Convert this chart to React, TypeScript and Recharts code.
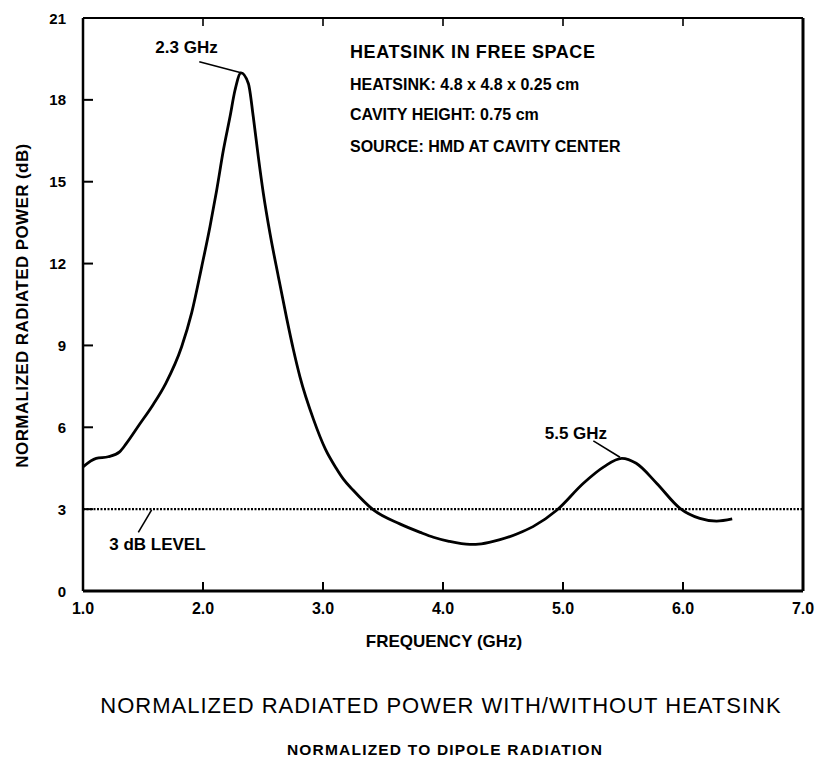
import React from 'react';
import { LineChart, Line, XAxis, YAxis, ReferenceLine, ReferenceDot, Label } from 'recharts';

// Frequency (GHz) and normalized radiated power (dB)
const freqGHz = [1.0, 1.11, 1.21, 1.305, 1.36, 1.47, 1.58, 1.69, 1.822, 1.906, 1.989, 2.058, 2.114, 2.17, 2.225, 2.267, 2.317, 2.378, 2.419, 2.461, 2.503, 2.558, 2.628, 2.697, 2.753, 2.808, 2.92, 3.02, 3.11, 3.17, 3.25, 3.42, 3.64, 3.81, 3.92, 4.05, 4.225, 4.32, 4.475, 4.62, 4.75, 4.95, 5.17, 5.34, 5.49, 5.61, 5.78, 5.975, 6.14, 6.28, 6.41];
const powerDb = [4.55, 4.86, 4.92, 5.1, 5.4, 6.1, 6.8, 7.61, 8.95, 10.2, 11.88, 13.35, 14.69, 16.16, 17.38, 18.36, 18.99, 18.6, 17.38, 15.91, 14.57, 13.11, 11.52, 10.0, 8.85, 7.85, 6.3, 5.2, 4.5, 4.1, 3.7, 2.97, 2.46, 2.15, 1.97, 1.82, 1.71, 1.73, 1.88, 2.1, 2.36, 2.97, 3.95, 4.55, 4.86, 4.68, 3.95, 3.03, 2.66, 2.56, 2.64];

const xTicks = [1, 2, 3, 4, 5, 6, 7];
const yTicks = [0, 3, 6, 9, 12, 15, 18, 21];
const xTickLabels = ['1.0', '2.0', '3.0', '4.0', '5.0', '6.0', '7.0'];

const levelDb = 3;
const peak1 = { x: 2.317, y: 18.99, labelX: 1.969, labelY: 19.4, textX: 1.8625, textY: 19.71, text: '2.3 GHz' };
const peak2 = { x: 5.475, y: 4.9, labelX: 5.253, labelY: 5.5, textX: 5.108, textY: 5.57, text: '5.5 GHz' };
const level = { x: 1.572, y: 2.97, labelX: 1.461, labelY: 2.15, textX: 1.62, textY: 1.5, text: '3 dB LEVEL' };

const infoLines = ['HEATSINK IN FREE SPACE', 'HEATSINK: 4.8 x 4.8 x 0.25 cm', 'CAVITY HEIGHT: 0.75 cm', 'SOURCE: HMD AT CAVITY CENTER'];
const xTitle = 'FREQUENCY (GHz)';
const yTitle = 'NORMALIZED RADIATED POWER (dB)';
const mainTitle = 'NORMALIZED RADIATED POWER WITH/WITHOUT HEATSINK';
const subTitle = 'NORMALIZED TO DIPOLE RADIATION';

const data = freqGHz.map((f, i) => ({ f, p: powerDb[i] }));

const FONT = '"Liberation Sans", Arial, Helvetica, sans-serif';

const LeftTick = (props: any) => {
  const { x, y, payload } = props;
  const ax = x + 17;
  return (
    <g>
      <line x1={ax} x2={ax + 10} y1={y} y2={y} stroke="#000" strokeWidth={2} />
      <text x={x} y={y} dy={5.5} textAnchor="end" fontFamily={FONT} fontWeight="bold" fontSize={15} fill="#000">
        {payload.value}
      </text>
    </g>
  );
};

const RightTick = (props: any) => {
  const { x, y } = props;
  const ax = x - 4;
  return <line x1={ax} x2={ax - 9} y1={y} y2={y} stroke="#000" strokeWidth={2} />;
};

const BottomTick = (props: any) => {
  const { x, y, payload, index } = props;
  const ay = y - 12;
  return (
    <g>
      <line x1={x} x2={x} y1={ay} y2={ay - 9} stroke="#000" strokeWidth={2} />
      <text x={x} y={y} dy={11} textAnchor="middle" fontFamily={FONT} fontWeight="bold" fontSize={16} fill="#000">
        {xTickLabels[index] ?? payload.value}
      </text>
    </g>
  );
};

const TopTick = (props: any) => {
  const { x, y } = props;
  const ay = y + 4;
  return <line x1={x} x2={x} y1={ay} y2={ay + 8} stroke="#000" strokeWidth={1.6} />;
};

const BottomTitles = (props: any) => {
  const vb = props.viewBox || {};
  const cx = vb.x + vb.width / 2;
  const top = vb.y;
  return (
    <g fill="#000">
      <text x={cx + 1} y={top + 56} textAnchor="middle" fontFamily={FONT} fontWeight="bold" fontSize={17}>{xTitle}</text>
      <text x={cx - 2} y={top + 122} textAnchor="middle" fontFamily={FONT} fontSize={22} letterSpacing={1}>{mainTitle}</text>
      <text x={cx + 2} y={top + 164} textAnchor="middle" fontFamily={FONT} fontWeight="bold" fontSize={15.5} letterSpacing={1.2}>{subTitle}</text>
    </g>
  );
};

const LeftTitle = (props: any) => {
  const vb = props.viewBox || {};
  const cx = vb.x - 21;
  const cy = vb.y + vb.height / 2 + 1;
  return (
    <text x={cx} y={cy} transform={`rotate(-90 ${cx} ${cy})`} textAnchor="middle" dominantBaseline="central" fontFamily={FONT} fontWeight="bold" fontSize={17} letterSpacing={0.4} fill="#000">
      {yTitle}
    </text>
  );
};

const InfoBlock = (props: any) => {
  const vb = props.viewBox || {};
  const x0 = vb.x + 267;
  const base = vb.y + vb.height;
  const offs = [40, 72, 102, 134];
  return (
    <g fill="#000" fontFamily={FONT} fontWeight="bold">
      {infoLines.map((t, i) => (
        <text key={i} x={x0} y={base + offs[i]} fontSize={i === 0 ? 18 : 16} letterSpacing={i === 0 ? 0.6 : 0}>{t}</text>
      ))}
    </g>
  );
};

const makeText = (text: string) => (props: any) => {
  const vb = props.viewBox || {};
  const cx = vb.x + (vb.width || 0) / 2;
  const cy = vb.y + (vb.height || 0) / 2;
  return (
    <text x={cx} y={cy} textAnchor="middle" fontFamily={FONT} fontWeight="bold" fontSize={17} fill="#000">{text}</text>
  );
};

export default function App() {
  return (
    <div style={{ position: 'absolute', left: 0, top: 0, width: 817, height: 761, background: '#fff' }}>
      <LineChart width={817} height={761} data={data} margin={{ top: 10, right: 10, bottom: 140, left: 43 }}>
        <XAxis
          dataKey="f"
          type="number"
          domain={[1, 7]}
          ticks={xTicks}
          height={30}
          tickSize={0}
          tickMargin={12}
          tickLine={false}
          axisLine={{ stroke: '#000', strokeWidth: 3 }}
          tick={BottomTick}
          interval={0}
        >
          <Label content={BottomTitles} />
        </XAxis>
        <XAxis
          xAxisId="t"
          orientation="top"
          dataKey="f"
          type="number"
          domain={[1, 7]}
          ticks={xTicks.slice(1, -1)}
          height={8}
          tickSize={0}
          tickMargin={4}
          tickLine={false}
          axisLine={{ stroke: '#000', strokeWidth: 2 }}
          tick={TopTick}
          interval={0}
        >
          <Label content={InfoBlock} />
        </XAxis>
        <YAxis
          type="number"
          domain={[0, 21]}
          ticks={yTicks}
          width={40}
          tickSize={0}
          tickMargin={17}
          tickLine={false}
          axisLine={{ stroke: '#000', strokeWidth: 2.5 }}
          tick={LeftTick}
          interval={0}
        >
          <Label content={LeftTitle} />
        </YAxis>
        <YAxis
          yAxisId="r"
          orientation="right"
          type="number"
          domain={[0, 21]}
          ticks={yTicks.slice(1, -1)}
          width={4}
          tickSize={0}
          tickMargin={4}
          tickLine={false}
          axisLine={{ stroke: '#000', strokeWidth: 3 }}
          tick={RightTick}
          interval={0}
        />
        <ReferenceLine y={levelDb} stroke="#000" strokeWidth={2.2} strokeDasharray="2 1.5" />
        <ReferenceLine segment={[{ x: peak1.labelX, y: peak1.labelY }, { x: peak1.x, y: peak1.y }]} stroke="#000" strokeWidth={1.6} />
        <ReferenceLine segment={[{ x: peak2.labelX, y: peak2.labelY }, { x: peak2.x, y: peak2.y }]} stroke="#000" strokeWidth={1.6} />
        <ReferenceLine segment={[{ x: level.labelX, y: level.labelY }, { x: level.x, y: level.y }]} stroke="#000" strokeWidth={1.6} />
        <ReferenceDot x={peak1.textX} y={peak1.textY} r={1} fill="none" stroke="none" label={makeText(peak1.text)} />
        <ReferenceDot x={peak2.textX} y={peak2.textY} r={1} fill="none" stroke="none" label={makeText(peak2.text)} />
        <ReferenceDot x={level.textX} y={level.textY} r={1} fill="none" stroke="none" label={makeText(level.text)} />
        <Line
          type="monotone"
          dataKey="p"
          stroke="#000"
          strokeWidth={2.8}
          dot={false}
          activeDot={false}
          isAnimationActive={false}
        />
      </LineChart>
    </div>
  );
}
